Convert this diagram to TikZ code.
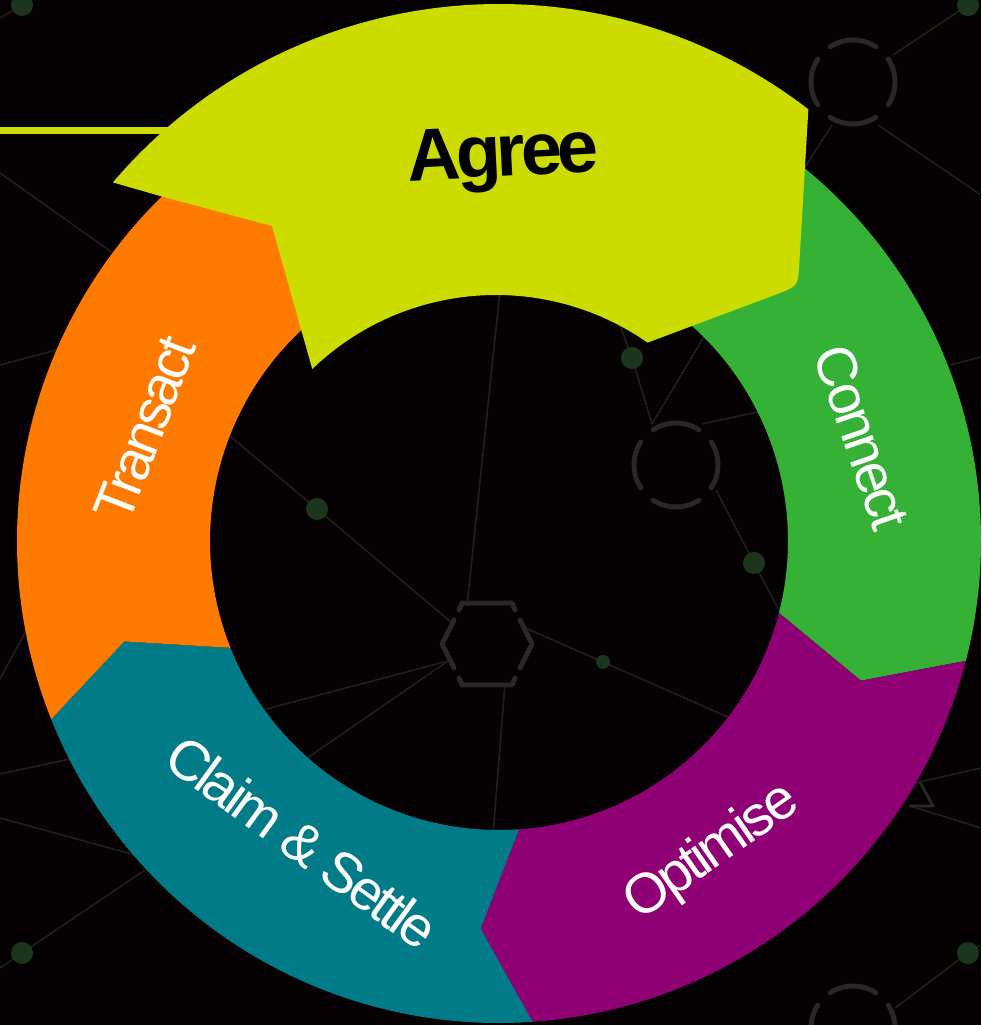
\documentclass[tikz,border=0pt]{standalone}
\usepackage{fontspec}
\setmainfont{Liberation Sans}
\newfontfamily\ringfont[LetterSpace=-6]{Liberation Sans}
\usepackage{tikz}
\usetikzlibrary{calc}
\definecolor{agreeYellow}{HTML}{CCDC00}
\definecolor{transactOrange}{HTML}{FF7B00}
\definecolor{connectGreen}{HTML}{35B236}
\definecolor{optimisePurple}{HTML}{8E0073}
\definecolor{claimTeal}{HTML}{007B87}
\definecolor{bgBlack}{HTML}{060203}
\definecolor{netGrey}{HTML}{221E1E}
\definecolor{iconGrey}{HTML}{2B2727}
\definecolor{dotGreen}{HTML}{1C361D}
% one arrow piece of the ring: colour, start angle, end angle (tip side)
\newcommand{\ringpart}[3]{%
  \fill[#1] ([shift={(#2:482)}]ringC) arc[start angle=#2, end angle=#3, radius=482]
    -- ([shift={({#3-6.7}:388)}]ringC) -- ([shift={(#3:289)}]ringC)
    arc[start angle=#3, end angle=#2, radius=289]
    -- ([shift={({#2-6.7}:388)}]ringC) -- cycle;}

\begin{document}
\begin{tikzpicture}[
    x=0.01cm, y=0.01cm,
    net/.style={draw=netGrey, line width=0.45pt},
    netdot/.style={fill=dotGreen},
    icon/.style={draw=iconGrey, line width=1.4pt, line cap=round, line join=round},
    seglabel/.style={text=white, inner sep=0, font=\ringfont\fontsize{16}{19}\selectfont},
    headlabel/.style={text=black, inner sep=0, font=\ringfont\bfseries\fontsize{21}{24}\selectfont}]

\useasboundingbox (0,0) rectangle (981,1025);
\fill[bgBlack] (0,0) rectangle (981,1025);

% background network
\draw[net] (22,1020) -- (0,1007);
\draw[net] (968,1020) -- (893,970);
\draw[net] (832,900) -- (800,850);
\draw[net] (878,900) -- (981,830);
\draw[net] (0,852) -- (120,767);
\draw[net] (0,660) -- (60,676);
\draw[net] (500,735) -- (467,419);
\draw[net] (505,342) -- (493,190);
\draw[net] (225,593) -- (317,516) -- (452,402);
\draw[net] (448,364) -- (255,313);
\draw[net] (448,364) -- (300,262);
\draw[net] (523,398) -- (603,363) -- (730,307);
\draw[net] (620,700) -- (632,667) -- (652,601);
\draw[net] (705,690) -- (652,601);
\draw[net] (702,601) -- (790,620);
\draw[net] (716,535) -- (754,462) -- (780,413);
\draw[net] (950,660) -- (981,668);
\draw[net] (915,242) -- (981,257);
\draw[net] (910,219) -- (981,197);
\draw[net] (0,346) -- (28,398);
\draw[net] (0,251) -- (70,266);
\draw[net] (0,207) -- (135,170);
\draw[net] (22,72) -- (145,155);
\draw[net] (22,72) -- (0,57);
\draw[net] (968,72) -- (895,17);
\draw[net] (968,72) -- (981,80);
\draw[icon, line width=0.8pt] (920,243) -- (933,219) -- (910,219);

\foreach \x/\y/\r in {22/1020/11, 968/1020/11, 632/667/11, 317/516/11,
                      754/462/11, 603/363/7, 22/72/11, 968/72/11}
  \fill[netdot] (\x,\y) circle[radius=\r];

\foreach \cx/\cy in {853/943, 676/560, 853/-3}
  \foreach \a in {0,90,180,270}
    \draw[icon] ([shift={({\a-33}:42)}]\cx,\cy) arc[start angle=\a-33, end angle=\a+33, radius=42];

\begin{scope}[shift={(487,381)}]
  \draw[icon] (-28,34) -- (-25,41) -- (25,41) -- (28,34);
  \draw[icon] (-33,24) -- (-45,0) -- (-33,-24);
  \draw[icon] (33,24) -- (45,0) -- (33,-24);
  \draw[icon] (-28,-34) -- (-25,-41) -- (25,-41) -- (28,-34);
\end{scope}

% ring
\coordinate (ringC) at (499,484);
\ringpart{connectGreen}{53}{-14.4}
\ringpart{optimisePurple}{-14.4}{-86}
\ringpart{claimTeal}{-86}{-158.3}
\ringpart{transactOrange}{201.7}{128}

% raised first step
\draw[agreeYellow, line width=2pt] (0,894) -- (200,894);
\coordinate (agreeOut) at (499,514);
\coordinate (agreeIn) at (496,465);
\fill[agreeYellow] ([shift={(139.6:507)}]agreeOut) arc[start angle=139.6, end angle=52.4, radius=507]
  -- (799.3,761) .. controls (798,739) .. (777.5,731)
  -- ([shift={(55.1:265)}]agreeIn) arc[start angle=55.1, end angle=133.9, radius=265]
  -- (272,799) -- (160,829) -- cycle;

\node[headlabel, rotate=3] (agree) at (503,866) {Agree};
\node[seglabel, rotate=69] (transact) at (145,596) {Transact};
\node[seglabel, rotate=-71] (connect) at (862,588) {Connect};
\node[seglabel, rotate=35] (optimise) at (712,172) {Optimise};
\node[seglabel, rotate=-36] (claim) at (302,183) {Claim \& Settle};

\end{tikzpicture}
\end{document}
